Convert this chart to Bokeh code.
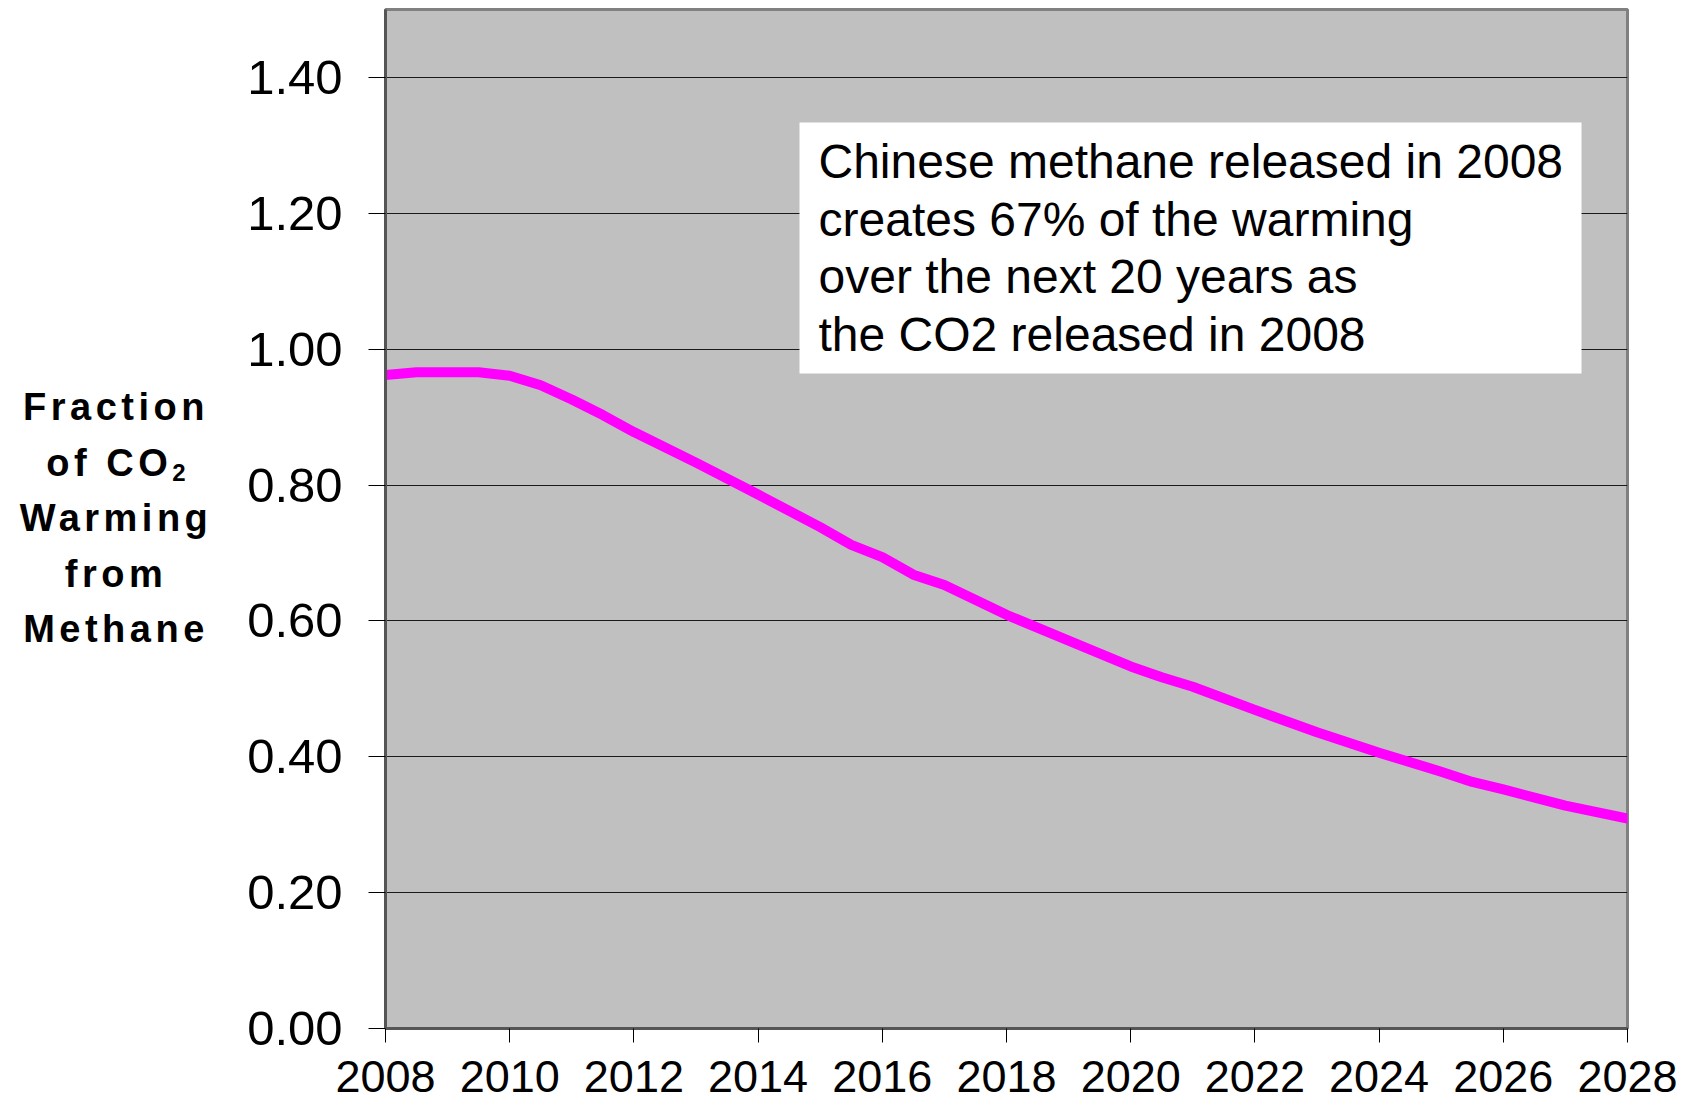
from bokeh.plotting import figure
from bokeh.layouts import row
from bokeh.models import Range1d, FixedTicker, NumeralTickFormatter, BoxAnnotation, Label, Div
from bokeh.embed import file_html
from bokeh.resources import INLINE

# ---- data ----
years = [2008, 2008.5, 2009, 2009.5, 2010, 2010.5, 2011, 2011.5, 2012, 2013, 2014,
         2015, 2015.5, 2016, 2016.5, 2017, 2018, 2019, 2020, 2020.5, 2021, 2022,
         2023, 2024, 2025, 2025.5, 2026, 2027, 2028]
fraction = [0.962, 0.966, 0.966, 0.966, 0.961, 0.947, 0.926, 0.903, 0.878, 0.833, 0.786,
            0.738, 0.712, 0.694, 0.668, 0.653, 0.609, 0.571, 0.533, 0.517, 0.503, 0.469,
            0.436, 0.406, 0.378, 0.363, 0.352, 0.328, 0.309]
x_ticks = [2008, 2010, 2012, 2014, 2016, 2018, 2020, 2022, 2024, 2026, 2028]
y_ticks = [0.0, 0.2, 0.4, 0.6, 0.8, 1.0, 1.2, 1.4]
y_title_lines = ["Fraction", "of CO<sub>2</sub>", "Warming", "from", "Methane"]
note_lines = ["Chinese methane released in 2008",
              "creates 67% of the warming",
              "over the next 20 years as",
              "the CO2 released in 2008"]

# ---- layout ----
W, H = 1691, 1105
TW = 232                              # width of the title column
X0, X1 = 2008, 2028
Y0, Y1 = 0.0, 1.5
FL, FR, FT, FB = 385, 1627, 9, 1028   # frame edges in px (page coords)


def dx(px):
    return X0 + (px - FL) * (X1 - X0) / (FR - FL)


def dy(py):
    return Y0 + (FB - py) * (Y1 - Y0) / (FB - FT)


p = figure(width=W - TW, height=H, output_backend="svg", toolbar_location=None,
           x_range=Range1d(X0, X1), y_range=Range1d(Y0, Y1),
           min_border_left=FL - TW, min_border_right=W - FR,
           min_border_top=FT, min_border_bottom=H - FB)

p.background_fill_color = "#C0C0C0"
p.border_fill_color = "white"
p.outline_line_color = "#808080"
p.outline_line_width = 3

p.xgrid.visible = False
p.ygrid.grid_line_color = "#1a1a1a"
p.ygrid.grid_line_width = 1
p.ygrid.ticker = FixedTicker(ticks=y_ticks)

p.yaxis.ticker = FixedTicker(ticks=y_ticks)
p.yaxis.formatter = NumeralTickFormatter(format="0.00")
p.yaxis.major_label_text_font = "Liberation Sans"
p.yaxis.major_label_text_font_size = "49px"
p.yaxis.major_label_text_color = "black"
p.yaxis.major_label_standoff = 26
p.yaxis.major_tick_out = 17
p.yaxis.major_tick_in = 0
p.yaxis.minor_tick_line_color = None
p.yaxis.major_tick_line_color = "black"
p.yaxis.axis_line_color = "#555555"
p.yaxis.axis_line_width = 3

p.xaxis.ticker = FixedTicker(ticks=x_ticks)
p.xaxis.formatter = NumeralTickFormatter(format="0")
p.xaxis.major_label_text_font = "Liberation Sans"
p.xaxis.major_label_text_font_size = "45px"
p.xaxis.major_label_text_color = "black"
p.xaxis.major_label_standoff = 18
p.xaxis.major_tick_out = 14
p.xaxis.major_tick_in = 0
p.xaxis.minor_tick_line_color = None
p.xaxis.major_tick_line_color = "black"
p.xaxis.axis_line_color = "#555555"
p.xaxis.axis_line_width = 3

p.line(years, fraction, line_color="#FF00FF", line_width=10,
       line_cap="round", line_join="round")

# annotation box
box = BoxAnnotation(left=dx(799), right=dx(1581), top=dy(122), bottom=dy(373),
                    fill_color="white", fill_alpha=1.0, line_color=None)
p.add_layout(box)

for i, t in enumerate(note_lines):
    p.add_layout(Label(x=dx(818), y=dy(161 + 57.5 * i), text=t,
                       text_font="Liberation Sans", text_font_size="48px",
                       text_color="black", text_align="left",
                       text_baseline="alphabetic"))

# horizontal, centred, multi-line y-axis title
title_html = (
    '<div style="padding-top:380px;width:%dpx;text-align:center;'
    'font-family:\'Liberation Sans\',Arial,sans-serif;font-weight:bold;'
    'font-size:38px;line-height:55.5px;letter-spacing:4.5px;color:black;">%s</div>'
) % (TW, "<br>".join(
    t.replace("<sub>", '<sub style="font-size:24px;line-height:0;vertical-align:-5px;letter-spacing:0">')
    for t in y_title_lines))
title = Div(text=title_html, width=TW, height=H, margin=(0, 0, 0, 0))

layout = row(title, p, spacing=0)
open("out.html", "w").write(file_html(layout, INLINE))
